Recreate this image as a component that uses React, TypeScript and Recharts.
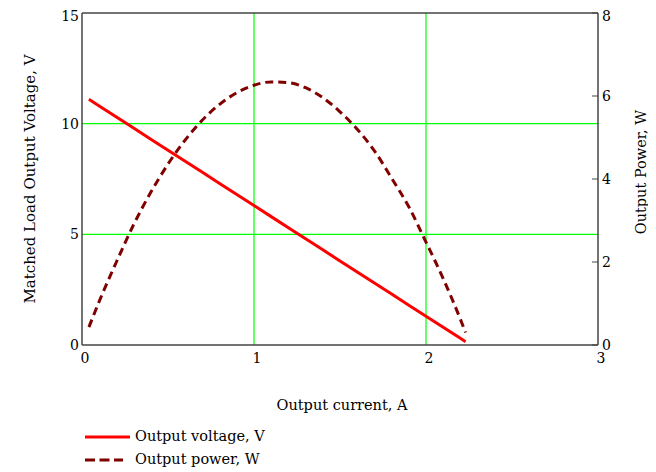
import { LineChart, Line, XAxis, YAxis, CartesianGrid, ReferenceLine, Legend } from "recharts";

const current = [
  0.04, 0.1, 0.2, 0.3, 0.4, 0.5, 0.6, 0.7, 0.8, 0.9, 1.0, 1.1, 1.2, 1.3, 1.4, 1.5, 1.6, 1.7,
  1.8, 1.9, 2.0, 2.1, 2.2, 2.23,
];
const voltage = [
  11.1, 10.8, 10.3, 9.8, 9.3, 8.8, 8.3, 7.8, 7.3, 6.8, 6.3, 5.8, 5.3, 4.8, 4.3, 3.8, 3.3, 2.8,
  2.3, 1.8, 1.3, 0.8, 0.3, 0.15,
];
const power = [
  0.43, 1.05, 2.0, 2.9, 3.68, 4.36, 4.94, 5.42, 5.8, 6.08, 6.26, 6.34, 6.32, 6.2, 5.96, 5.62,
  5.2, 4.68, 4.02, 3.33, 2.48, 1.6, 0.62, 0.3,
];

const xTicks = [0, 1, 2, 3];
const voltageTicks = [0, 5, 10, 15];
const powerTicks = [0, 2, 4, 6, 8];
const gridX = [1, 2];
const gridY = [5, 10];

const xTitle = "Output current, A";
const leftTitle = "Matched Load Output Voltage, V";
const rightTitle = "Output Power, W";
const seriesNames = ["Output voltage, V", "Output power, W"];

const data = current.map((c, i) => ({ current: c, voltage: voltage[i], power: power[i] }));

const FONT = '"DejaVu Serif", serif';
const AXIS = "#444";
const VOLT = "#ff0000";
const POWER = "#800000";

const tickStyle = { fontFamily: FONT, fontSize: 14, fill: "#000" };
const titleStyle = { fontFamily: FONT, fontSize: 14.5, fill: "#000" };

const ChartLegend = () => (
  <div style={{ fontFamily: FONT, fontSize: 14.5, color: "#000", lineHeight: "23px" }}>
    <div style={{ display: "flex", alignItems: "center", height: 23 }}>
      <svg width={45} height={6}>
        <line x1={0} y1={3} x2={45} y2={3} stroke={VOLT} strokeWidth={3} />
      </svg>
      <span style={{ marginLeft: 5 }}>{seriesNames[0]}</span>
    </div>
    <div style={{ display: "flex", alignItems: "center", height: 23 }}>
      <svg width={45} height={6}>
        <line x1={0} y1={3} x2={38} y2={3} stroke={POWER} strokeWidth={3} strokeDasharray="10 4.5" />
      </svg>
      <span style={{ marginLeft: 5 }}>{seriesNames[1]}</span>
    </div>
  </div>
);

const App = () => {
  return (
    <LineChart
      width={648}
      height={464}
      data={data}
      margin={{ top: 5, right: 0, left: 0, bottom: 57 }}
    >
      <CartesianGrid
        yAxisId="left"
        horizontalValues={gridY}
        verticalValues={gridX}
        stroke="#00ff00"
        strokeWidth={1.2}
      />
      <XAxis
        dataKey="current"
        type="number"
        domain={[0, 3]}
        ticks={xTicks}
        tickLine={false}
        tickSize={0}
        tickMargin={8}
        tick={{ ...tickStyle, dx: 3 }}
        axisLine={{ stroke: AXIS, strokeWidth: 1.5 }}
        height={70}
        label={{
          content: (props: any) => {
            const vb = props.viewBox || { x: 74, y: 337, width: 516 };
            return (
              <text
                x={vb.x + vb.width / 2 + 2}
                y={vb.y + 60}
                textAnchor="middle"
                dominantBaseline="central"
                style={titleStyle}
              >
                {xTitle}
              </text>
            );
          },
        }}
      />
      <YAxis
        yAxisId="left"
        domain={[0, 15]}
        ticks={voltageTicks}
        width={74}
        tickLine={false}
        tickSize={0}
        tickMargin={3}
        tick={tickStyle}
        axisLine={{ stroke: AXIS, strokeWidth: 1.5 }}
        label={{
          content: (props: any) => {
            const vb = props.viewBox || { x: 0, y: 5, height: 332 };
            const cx = vb.x + 22;
            const cy = vb.y + vb.height / 2;
            return (
              <text
                x={cx}
                y={cy}
                transform={`rotate(-90, ${cx}, ${cy})`}
                textAnchor="middle"
                dominantBaseline="central"
                style={{ ...titleStyle, fontSize: 15 }}
              >
                {leftTitle}
              </text>
            );
          },
        }}
      />
      <YAxis
        yAxisId="right"
        orientation="right"
        domain={[0, 8]}
        ticks={powerTicks}
        width={58}
        tickSize={-6}
        tickMargin={10}
        tickLine={{ stroke: AXIS }}
        tick={tickStyle}
        axisLine={{ stroke: AXIS, strokeWidth: 1.5 }}
        label={{
          content: (props: any) => {
            const vb = props.viewBox || { x: 590, y: 5, height: 332 };
            const cx = vb.x + 43;
            const cy = vb.y + vb.height / 2 - 7;
            return (
              <text
                x={cx}
                y={cy}
                transform={`rotate(-90, ${cx}, ${cy})`}
                textAnchor="middle"
                dominantBaseline="central"
                style={titleStyle}
              >
                {rightTitle}
              </text>
            );
          },
        }}
      />
      <ReferenceLine yAxisId="left" y={15} stroke={AXIS} strokeWidth={1.5} />
      <Line
        yAxisId="left"
        type="linear"
        dataKey="voltage"
        name={seriesNames[0]}
        stroke={VOLT}
        strokeWidth={3}
        dot={false}
        activeDot={false}
        isAnimationActive={false}
      />
      <Line
        yAxisId="right"
        type="monotone"
        dataKey="power"
        name={seriesNames[1]}
        stroke={POWER}
        strokeWidth={3}
        strokeDasharray="8 5"
        dot={false}
        activeDot={false}
        isAnimationActive={false}
      />
      <Legend
        layout="horizontal"
        verticalAlign="middle"
        align="center"
        wrapperStyle={{ left: 77, top: 417, width: "auto" }}
        content={() => <ChartLegend />}
      />
    </LineChart>
  );
};

export default App;
